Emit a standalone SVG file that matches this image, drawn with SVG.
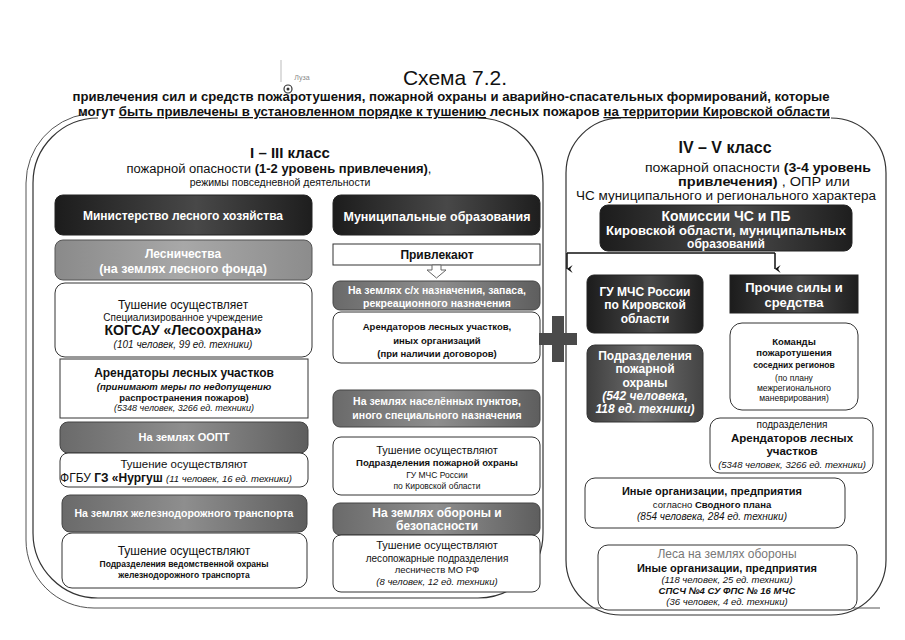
<svg xmlns="http://www.w3.org/2000/svg" width="905" height="640" viewBox="0 0 905 640">
<defs>
<style>
text{font-family:"Liberation Sans",Arial,sans-serif;fill:#111;text-anchor:middle}
.w{fill:#fff}
.b{font-weight:bold}
.i{font-style:italic}
.dark{fill:url(#gDark);stroke:#222;stroke-width:1}
.gray{fill:url(#gGray);stroke:#444;stroke-width:1}
.mgray{fill:url(#gMid);stroke:#333;stroke-width:1}
.lgray{fill:url(#gLGray);stroke:#555;stroke-width:1}
.box{fill:#fff;stroke:#333;stroke-width:1}
.panel{fill:none;stroke:#333;stroke-width:1.2}
.con{fill:none;stroke:#111;stroke-width:1.5}
</style>
<linearGradient id="gDark" x1="0" y1="0" x2="1" y2="0">
<stop offset="0" stop-color="#1c1c1c"/><stop offset="0.55" stop-color="#484848"/><stop offset="1" stop-color="#1e1e1e"/>
</linearGradient>
<linearGradient id="gGray" x1="0" y1="0" x2="1" y2="0">
<stop offset="0" stop-color="#6a6a6a"/><stop offset="0.5" stop-color="#8e8e8e"/><stop offset="1" stop-color="#5e5e5e"/>
</linearGradient>
<linearGradient id="gMid" x1="0" y1="0" x2="1" y2="0">
<stop offset="0" stop-color="#3e3e3e"/><stop offset="0.5" stop-color="#6e6e6e"/><stop offset="1" stop-color="#444"/>
</linearGradient>
<linearGradient id="gLGray" x1="0" y1="0" x2="1" y2="0">
<stop offset="0" stop-color="#8a8a8a"/><stop offset="0.5" stop-color="#a8a8a8"/><stop offset="1" stop-color="#8c8c8c"/>
</linearGradient>
<marker id="arr" viewBox="0 0 10 10" refX="5" refY="9" markerWidth="8" markerHeight="8" orient="auto-start-reverse" markerUnits="userSpaceOnUse">
<path d="M0,2 L5,9 L10,2 L5,5 Z" fill="#111"/>
</marker>
</defs>
<rect width="905" height="640" fill="#fff"/>

<g id="map-remnant">
<line x1="281" y1="60" x2="281" y2="82" stroke="#aaa" stroke-width="0.8"/>
<circle cx="288" cy="89" r="4" fill="none" stroke="#333" stroke-width="1.2"/>
<circle cx="288" cy="89" r="1.5" fill="#333"/>
<text x="302" y="80" font-size="7" style="fill:#888">Луза</text>
</g>

<g id="panels">
<path class="panel" d="M98,118 A65,65 0 0 0 33,183 V533 A65,65 0 0 0 98,598 H478 A65,65 0 0 0 543,533 V183 A65,65 0 0 0 478,118"/>
<path class="panel" d="M621,118 A55,55 0 0 0 566,173 V560 A55,55 0 0 0 621,615 H831 A55,55 0 0 0 886,560 V173 A55,55 0 0 0 831,118"/>
<path d="M86,114 A70,70 0 0 0 26,183 V540 A68,68 0 0 0 94,608 H880" fill="none" stroke="#555" stroke-width="1"/>
</g>

<g id="title">
<text x="455" y="85" font-size="21">Схема 7.2.</text>
<text x="451" y="101" font-size="12.5" class="b" textLength="757" lengthAdjust="spacingAndGlyphs">привлечения сил и средств пожаротушения, пожарной охраны и аварийно-спасательных формирований, которые</text>
<text x="454" y="116" font-size="12.5" class="b" textLength="752" lengthAdjust="spacingAndGlyphs">могут <tspan text-decoration="underline">быть привлечены в установленном порядке к тушению</tspan> лесных пожаров <tspan text-decoration="underline">на территории Кировской области</tspan></text>
</g>

<g id="header-left">
<text x="290" y="158" font-size="15" class="b">I – III класс</text>
<text x="279" y="173" font-size="12" textLength="305" lengthAdjust="spacingAndGlyphs">пожарной опасности <tspan class="b">(1-2 уровень привлечения)</tspan>,</text>
<text x="280" y="186" font-size="10.5">режимы повседневной деятельности</text>
</g>

<g id="header-right">
<text x="725" y="153" font-size="16" class="b">IV – V класс</text>
<text x="645" y="172" font-size="12.5" style="text-anchor:start" textLength="226" lengthAdjust="spacingAndGlyphs">пожарной опасности <tspan class="b">(3-4 уровень</tspan></text>
<text x="678" y="186" font-size="12.5" style="text-anchor:start" textLength="172" lengthAdjust="spacingAndGlyphs"><tspan class="b">привлечения)</tspan> , ОПР или</text>
<text x="726" y="200" font-size="12" textLength="300" lengthAdjust="spacingAndGlyphs">ЧС муниципального и регионального характера</text>
</g>

<g id="n-ministry">
<rect class="dark" x="55" y="195" width="257" height="40" rx="8"/>
<text class="w b" x="183" y="220" font-size="12">Министерство лесного хозяйства</text>
</g>
<g id="n-lesnichestva">
<rect class="lgray" x="55" y="240" width="257" height="40" rx="8"/>
<text class="w b" x="183" y="258" font-size="12">Лесничества</text>
<text class="w b" x="183" y="273" font-size="12.5">(на землях лесного фонда)</text>
</g>
<g id="n-kogsau">
<rect class="box" x="55" y="283" width="257" height="74" rx="10"/>
<text x="183" y="309" font-size="12">Тушение осуществляет</text>
<text x="183" y="321" font-size="10">Специализированное учреждение</text>
<text x="183" y="335" font-size="14" class="b">КОГСАУ «Лесоохрана»</text>
<text x="183" y="348" font-size="10" class="i">(101 человек, 99 ед. техники)</text>
</g>
<g id="n-arendatory">
<rect class="box" x="60" y="359" width="248" height="59"/>
<text x="184" y="377" font-size="12" class="b">Арендаторы лесных участков</text>
<text x="184" y="390" font-size="9.5" class="b i">(принимают меры по недопущению</text>
<text x="184" y="401" font-size="9.5" class="b">распространения пожаров)</text>
<text x="184" y="411" font-size="9" class="i">(5348 человек, 3266 ед. техники)</text>
</g>
<g id="n-oopt">
<rect class="gray" x="60" y="422" width="248" height="31" rx="8"/>
<text class="w b" x="184" y="441" font-size="11">На землях ООПТ</text>
</g>
<g id="n-nurgush">
<rect class="box" x="60" y="453" width="248" height="34" rx="8"/>
<text x="184" y="468" font-size="11.5">Тушение осуществляют</text>
<text x="176" y="482" font-size="12">ФГБУ  <tspan class="b">ГЗ «Нургуш</tspan> <tspan class="i" font-size="9.5">(11 человек, 16 ед. техники)</tspan></text>
</g>
<g id="n-rail">
<rect class="gray" x="62" y="495" width="245" height="37" rx="8"/>
<text class="w b" x="184" y="517" font-size="10.5">На землях железнодорожного транспорта</text>
</g>
<g id="n-rail-guard">
<rect class="box" x="62" y="533" width="245" height="55" rx="10"/>
<text x="184" y="555" font-size="12">Тушение осуществляют</text>
<text x="184" y="567" font-size="8.5" class="b">Подразделения ведомственной охраны</text>
<text x="184" y="578" font-size="8.5" class="b">железнодорожного транспорта</text>
</g>

<g id="n-municipal">
<rect class="dark" x="333" y="195" width="207" height="40" rx="8"/>
<text class="w b" x="437" y="221" font-size="13" textLength="187" lengthAdjust="spacingAndGlyphs">Муниципальные образования</text>
</g>
<g id="n-privlekayut">
<rect class="box" x="333" y="244" width="207" height="21"/>
<text x="437" y="259" font-size="12" class="b">Привлекают</text>
</g>
<g id="n-sx">
<rect class="gray" x="333" y="281" width="207" height="29" rx="7"/>
<text class="w b" x="437" y="294" font-size="10.5">На землях с/х назначения, запаса,</text>
<text class="w b" x="437" y="307" font-size="10.5">рекреационного назначения</text>
</g>
<g id="n-arendatorov">
<rect class="box" x="333" y="312" width="207" height="51" rx="8"/>
<text x="437" y="330" font-size="9.5" class="b">Арендаторов лесных участков,</text>
<text x="437" y="344" font-size="9.5" class="b">иных организаций</text>
<text x="437" y="357" font-size="9.5" class="b">(при наличии договоров)</text>
</g>
<g id="n-naselennye">
<rect class="gray" x="333" y="390" width="207" height="37" rx="7"/>
<text class="w b" x="437" y="405" font-size="10.5">На землях населённых пунктов,</text>
<text class="w b" x="437" y="419" font-size="10.5">иного специального назначения</text>
</g>
<g id="n-mchs-units">
<rect class="box" x="333" y="437" width="207" height="58" rx="8"/>
<text x="437" y="454" font-size="11">Тушение осуществляют</text>
<text x="437" y="466" font-size="9.5" class="b">Подразделения пожарной охраны</text>
<text x="437" y="478" font-size="8.5">ГУ МЧС России</text>
<text x="437" y="489" font-size="8.5">по Кировской области</text>
</g>
<g id="n-oborona">
<rect class="gray" x="333" y="503" width="207" height="32" rx="7"/>
<text class="w b" x="437" y="517" font-size="12">На землях обороны и</text>
<text class="w b" x="437" y="530" font-size="12">безопасности</text>
</g>
<g id="n-mo">
<rect class="box" x="333" y="535" width="207" height="57" rx="8"/>
<text x="437" y="549" font-size="11">Тушение осуществляют</text>
<text x="437" y="562" font-size="10">лесопожарные подразделения</text>
<text x="437" y="573" font-size="9.5">лесничеств МО РФ</text>
<text x="437" y="585" font-size="9.5" class="i">(8 человек, 12 ед. техники)</text>
</g>

<g id="plus">
<rect x="552" y="316" width="12" height="46" fill="#4a4a4a"/>
<rect x="539" y="333" width="38" height="12" fill="#4a4a4a"/>
</g>

<g id="n-komissii">
<rect class="dark" x="600" y="205" width="252" height="46" rx="8"/>
<text class="w b" x="726" y="221" font-size="14">Комиссии ЧС и ПБ</text>
<text class="w b" x="726" y="235" font-size="12" textLength="240" lengthAdjust="spacingAndGlyphs">Кировской области, муниципальных</text>
<text class="w b" x="726" y="248" font-size="12">образований</text>
</g>
<g id="n-gu-mchs">
<rect class="dark" x="587" y="275" width="116" height="58" rx="7"/>
<text class="w b" x="645" y="296" font-size="12">ГУ МЧС России</text>
<text class="w b" x="645" y="309" font-size="12">по Кировской</text>
<text class="w b" x="645" y="323" font-size="12">области</text>
</g>
<g id="n-podrazdeleniya">
<rect class="mgray" x="587" y="345" width="116" height="77" rx="8"/>
<text class="w b" x="645" y="360" font-size="12">Подразделения</text>
<text class="w b" x="645" y="373" font-size="12">пожарной</text>
<text class="w b" x="645" y="387" font-size="12">охраны</text>
<text class="w b i" x="645" y="400" font-size="12">(542 человека,</text>
<text class="w b i" x="645" y="413" font-size="12">118 ед. техники)</text>
</g>
<g id="n-prochie">
<rect class="dark" x="730" y="275" width="128" height="38"/>
<text class="w b" x="794" y="292" font-size="13">Прочие силы и</text>
<text class="w b" x="794" y="307" font-size="13">средства</text>
</g>
<g id="n-komandy">
<rect class="box" x="730" y="323" width="128" height="87" rx="12"/>
<text x="794" y="345" font-size="9.5" class="b">Команды</text>
<text x="794" y="356" font-size="9.5" class="b">пожаротушения</text>
<text x="794" y="368" font-size="8.5" class="b">соседних регионов</text>
<text x="794" y="381" font-size="8.5">(по плану</text>
<text x="794" y="391" font-size="8.5">межрегионального</text>
<text x="794" y="401" font-size="8.5">маневрирования)</text>
</g>
<g id="n-arendatory-r">
<rect class="box" x="710" y="418" width="163" height="55" rx="10"/>
<text x="792" y="428" font-size="10">подразделения</text>
<text x="792" y="442" font-size="11.5" class="b">Арендаторов лесных</text>
<text x="792" y="455" font-size="11.5" class="b">участков</text>
<text x="792" y="468" font-size="9.5" class="i">(5348 человек, 3266 ед. техники)</text>
</g>
<g id="n-inye">
<rect class="box" x="585" y="478" width="260" height="50" rx="10"/>
<text x="712" y="495" font-size="11" class="b">Иные организации, предприятия</text>
<text x="712" y="508" font-size="9.5">согласно <tspan class="b">Сводного плана</tspan></text>
<text x="712" y="520" font-size="10" class="i">(854 человека, 284 ед. техники)</text>
</g>
<g id="n-lesa-oborony">
<rect class="box" x="598" y="545" width="259" height="65" rx="10"/>
<text x="727" y="558" font-size="12" style="fill:#777">Леса на землях обороны</text>
<text x="727" y="572" font-size="11" class="b">Иные организации, предприятия</text>
<text x="727" y="583" font-size="9.5" class="i">(118 человек, 25 ед. техники)</text>
<text x="727" y="594" font-size="9.5" class="b i">СПСЧ №4 СУ ФПС № 16 МЧС</text>
<text x="727" y="605" font-size="9.5" class="i">(36 человек, 4 ед. техники)</text>
</g>

<g id="connectors">
<path class="con" d="M567,253 H775"/>
<path class="con" d="M567,253 V269" marker-end="url(#arr)"/>
<path class="con" d="M775,253 V269" marker-end="url(#arr)"/>
<path d="M432,265 H441 V270 H446 L436.5,278 L427,270 H432 Z" fill="#fff" stroke="#666" stroke-width="1"/>
</g>
</svg>
